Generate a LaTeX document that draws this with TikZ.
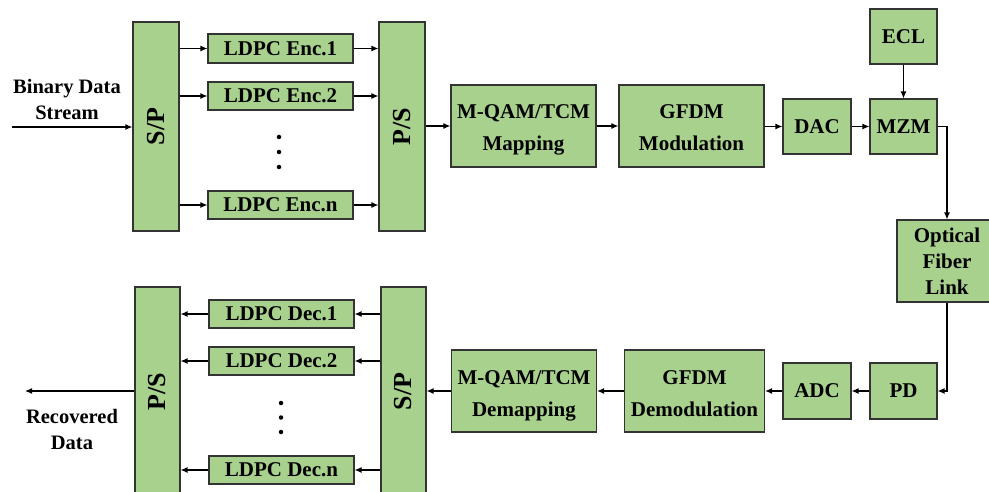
\documentclass[tikz,border=0pt]{standalone}
\usepackage{fontspec}
\setmainfont{Liberation Serif}
\usetikzlibrary{arrows.meta}
\definecolor{boxgreen}{HTML}{A9D18E}
\newcommand\bst{\rule[-5pt]{0pt}{28pt}}
\begin{document}
\begin{tikzpicture}[x=1pt,y=-1pt,
  blk/.style 2 args={draw=black!80, line width=1.1pt, fill=boxgreen, inner sep=0pt,
    minimum width=#1pt, minimum height=#2pt, align=center,
    font=\fontsize{21}{32}\selectfont\bfseries},
  tall/.style={font=\fontsize{21}{26}\selectfont\bfseries},
  vtext/.style={rotate=90, font=\fontsize{26}{30}\selectfont\bfseries, inner sep=0pt},
  lbl/.style={align=center, font=\fontsize{20.5}{25.5}\selectfont\bfseries, inner sep=0pt},
  arr/.style={line width=1.2pt, -{Latex[length=7pt,width=6pt]}},
  dot/.style={circle, fill=black, inner sep=0pt, minimum size=4.5pt}
]
\useasboundingbox (0,0) rectangle (989,492);

% ---------- transmitter ----------
\node[blk={46}{209}] (sp1) at (156,126.5) {};
\node[vtext] (sp1t) at (sp1) {S/P};
\node[blk={145}{29}] (enc1) at (280.5,48.5) {LDPC Enc.1};
\node[blk={145}{28}] (enc2) at (280.5,96) {LDPC Enc.2};
\node[blk={145}{28}] (encn) at (280.5,205) {LDPC Enc.n};
\node[dot] (d1) at (279,137) {};
\node[dot] (d2) at (279,152) {};
\node[dot] (d3) at (279,167) {};
\node[blk={46}{209}] (ps1) at (402,126.5) {};
\node[vtext] (ps1t) at (ps1) {P/S};
\node[blk={145}{82}] (map) at (523.5,126) {\bst M-QAM/TCM\\Mapping\bst};
\node[blk={145}{82}] (mod) at (691.5,126) {\bst GFDM\\Modulation\bst};
\node[blk={68}{55}] (dac) at (817,126.5) {DAC};
\node[blk={67}{55}] (mzm) at (903.5,126.5) {MZM};
\node[blk={67}{55}] (ecl) at (903.5,36.5) {ECL};
\node[blk={100}{82}, tall] (fib) at (947,261) {Optical\\Fiber\\Link};

\node[lbl] (bin) at (67,99.5) {Binary Data\\Stream};
\coordinate (in) at (12,127);

\draw[arr] (in) -- (sp1.west |- in);
\foreach \e in {enc1,enc2,encn}{
  \draw[arr] (sp1.east |- \e) -- (\e.west);
  \draw[arr] (\e.east) -- (ps1.west |- \e);
}
\draw[arr] (ps1.east |- map) -- (map.west);
\draw[arr] (map) -- (mod);
\draw[arr] (mod.east |- dac) -- (dac.west);
\draw[arr] (dac) -- (mzm);
\draw[arr] (ecl) -- (mzm);
\draw[arr] (mzm.east) -| (fib.north);

% ---------- receiver ----------
\node[blk={67}{56}] (pd) at (903.5,391) {PD};
\node[blk={68}{56}] (adc) at (817,391) {ADC};
\node[blk={140}{82}] (demod) at (694.5,391) {\bst GFDM\\Demodulation\bst};
\node[blk={145}{82}] (demap) at (524,391) {\bst M-QAM/TCM\\Demapping\bst};
\node[blk={45}{209}] (sp2) at (403.5,391.5) {};
\node[vtext] (sp2t) at (sp2) {S/P};
\node[blk={145}{28}] (dec1) at (281.5,314) {LDPC Dec.1};
\node[blk={145}{28}] (dec2) at (281.5,361) {LDPC Dec.2};
\node[blk={145}{28}] (decn) at (281.5,470) {LDPC Dec.n};
\node[dot] (d4) at (281,403) {};
\node[dot] (d5) at (281,417.5) {};
\node[dot] (d6) at (281,432) {};
\node[blk={45}{209}] (ps2) at (157.5,391.5) {};
\node[vtext] (ps2t) at (ps2) {P/S};

\node[lbl] (rec) at (72,429.5) {Recovered\\Data};
\coordinate (out) at (25,391);

\draw[arr] (fib.south) |- (pd.east);
\draw[arr] (pd) -- (adc);
\draw[arr] (adc.west) -- (demod.east |- adc);
\draw[arr] (demod) -- (demap);
\draw[arr] (demap.west) -- (sp2.east |- demap);
\foreach \e in {dec1,dec2,decn}{
  \draw[arr] (sp2.west |- \e) -- (\e.east);
  \draw[arr] (\e.west) -- (ps2.east |- \e);
}
\draw[arr] (ps2.west |- out) -- (out);
\end{tikzpicture}
\end{document}
